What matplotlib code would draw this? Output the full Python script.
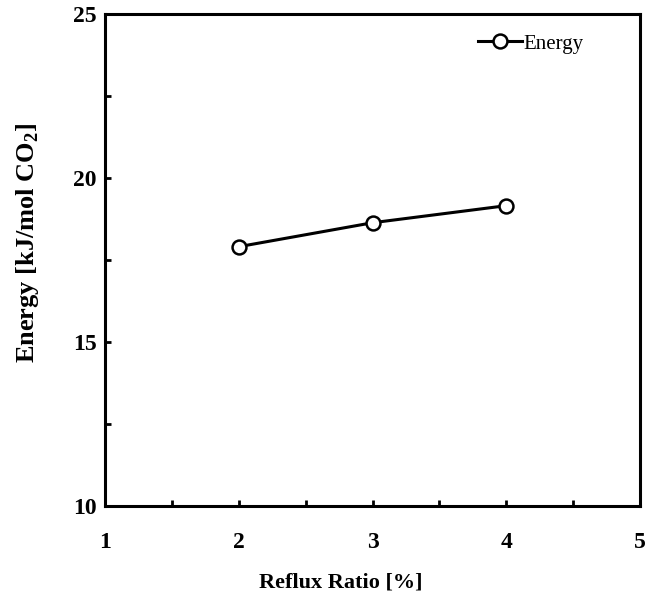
import matplotlib
matplotlib.use("Agg")
import matplotlib.pyplot as plt
from matplotlib.ticker import MultipleLocator

reflux = [2, 3, 4]
energy = [17.9, 18.63, 19.15]
xticks = [1, 2, 3, 4, 5]
yticks = [10, 15, 20, 25]

plt.rcParams['font.family'] = ['Liberation Serif', 'DejaVu Serif']
plt.rcParams['mathtext.fontset'] = 'custom'
plt.rcParams['mathtext.rm'] = 'Liberation Serif:bold'
plt.rcParams['mathtext.bf'] = 'Liberation Serif:bold'
fig = plt.figure(figsize=(6.49, 6.0), dpi=100)
ax = fig.add_axes([0.162, 0.157, 0.824, 0.820])
ax.plot(reflux, energy, color='black', lw=2.2, marker='o', ms=10, mfc='white', mec='black', mew=1.8, label='Energy')
ax.set_xlim(1, 5)
ax.set_ylim(10, 25)
ax.set_xticks(xticks)
ax.set_yticks(yticks)
ax.xaxis.set_minor_locator(MultipleLocator(0.5))
ax.yaxis.set_minor_locator(MultipleLocator(2.5))
ax.tick_params(which='both', direction='in', length=4, width=2, top=False, right=False)
ax.tick_params(axis='x', which='major', pad=19, labelsize=17)
ax.tick_params(axis='y', which='major', pad=6, labelsize=17)
ax.tick_params(which='minor', labelbottom=False, labelleft=False)
for lab in ax.get_xticklabels() + ax.get_yticklabels():
    lab.set_fontweight('bold')
for s in ax.spines.values():
    s.set_linewidth(2.2)
ax.set_xlabel('Reflux Ratio [%]', fontsize=16, fontweight='bold')
ax.xaxis.set_label_coords(0.44, -0.135)
ax.set_ylabel(r'Energy [kJ/mol CO$_\mathbf{2}$]', fontsize=19, fontweight='bold')
ax.yaxis.set_label_coords(-0.12, 0.535)
leg = ax.legend(loc='upper right', bbox_to_anchor=(0.93, 0.997), frameon=False, fontsize=15,
                handlelength=2.1, handletextpad=0.1)
fig.savefig('out.png', dpi=100)
